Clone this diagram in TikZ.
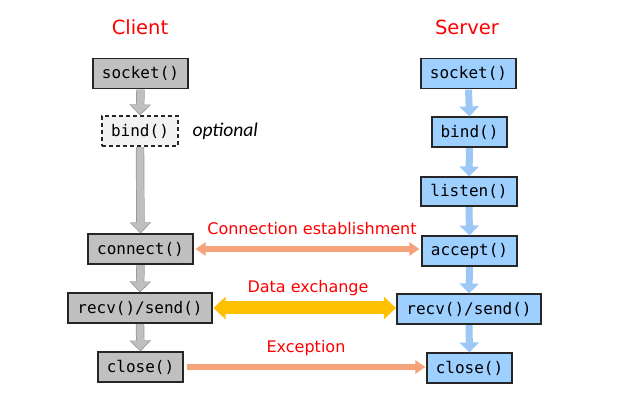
\documentclass[tikz,border=0pt]{standalone}
\usepackage{fontspec}
\setmainfont{DejaVu Sans}
\newfontfamily\monof{DejaVu Sans Mono}
\newfontfamily\labf{DejaVu Sans}
\newfontfamily\optf{Carlito}
\usetikzlibrary{arrows.meta}
\definecolor{boxgray}{HTML}{C0C0C0}
\definecolor{boxblue}{HTML}{9DCFFF}
\definecolor{bindfill}{HTML}{F2F2F2}
\definecolor{arrgray}{HTML}{BFBFBF}
\definecolor{arrgrayo}{HTML}{969696}
\definecolor{arrblue}{HTML}{9DC8F5}
\definecolor{salmon}{HTML}{F4A37A}
\definecolor{gold}{HTML}{FFC000}
\definecolor{labred}{HTML}{FF0000}
\begin{document}
\begin{tikzpicture}[x=1pt,y=-1pt,
  box/.style={draw=black!85, line width=1.1pt, minimum height=30pt, inner sep=0pt,
    font=\monof\fontsize{16}{18}\selectfont},
  cbox/.style={box, fill=boxgray},
  sbox/.style={box, fill=boxblue},
  title/.style={text=labred, font=\labf\fontsize{19.5}{22}\selectfont},
  lab/.style={text=labred, font=\labf\fontsize{16}{18}\selectfont},
  garrowo/.style={line width=8.4pt, draw=arrgrayo, -{Triangle[width=21pt,length=11pt]}},
  garrow/.style={line width=7pt, draw=arrgray, shorten >=1.2pt, -{Triangle[width=18.6pt,length=9.6pt]}},
  sarrow/.style={line width=7pt, draw=arrblue, -{Triangle[width=19pt,length=10pt]}},
  connarrow/.style={line width=6pt, draw=salmon, {Triangle[width=13pt,length=10pt]}-{Triangle[width=13pt,length=10pt]}},
  dataarrow/.style={line width=13pt, draw=gold, {Triangle[width=22pt,length=12pt]}-{Triangle[width=22pt,length=12pt]}},
  excarrow/.style={line width=6pt, draw=salmon, -{Triangle[width=13pt,length=10pt]}}
]
\useasboundingbox (0,0) rectangle (635,419);

% titles
\node[title] (tclient) at (140,27) {Client};
\node[title] (tserver) at (467,27) {Server};

% client column
\node[cbox, minimum width=95pt] (csock) at (140.5,73.5) {socket()};
\node[box, fill=bindfill, dash pattern=on 4pt off 3pt, minimum width=76pt] (cbind) at (140,131) {bind()};
\node[anchor=west, font=\optf\itshape\fontsize{19.5}{22}\selectfont] (opt) at (189,131) {optional};
\node[cbox, minimum width=105pt] (cconn) at (140.5,249) {connect()};
\node[cbox, minimum width=144pt] (crecv) at (140,308) {recv()/send()};
\node[cbox, minimum width=85pt] (cclose) at (140.5,367) {close()};

% server column
\node[sbox, minimum width=95pt] (ssock) at (468.5,73.5) {socket()};
\node[sbox, minimum width=75pt] (sbind) at (469.5,132) {bind()};
\node[sbox, minimum width=96pt, minimum height=29pt] (slisten) at (469,191.5) {listen()};
\node[sbox, minimum width=95pt] (saccept) at (469.5,251) {accept()};
\node[sbox, minimum width=144pt] (srecv) at (469,309) {recv()/send()};
\node[sbox, minimum width=85pt] (sclose) at (469.5,368) {close()};

% client arrows
\foreach \a/\b in {csock/cbind, cbind/cconn, cconn/crecv, crecv/cclose}{
  \draw[garrowo, shorten <=0.6pt] (\a.south) -- (\b.north);
  \draw[garrow, shorten <=0.6pt] (\a.south) -- (\b.north);
}
% server arrows
\foreach \a/\b in {ssock/sbind, sbind/slisten, slisten/saccept, saccept/srecv, srecv/sclose}{
  \draw[sarrow, shorten <=0.6pt] (\a.south) -- (\b.north);
}

% horizontal arrows
\draw[connarrow, shorten <=2pt, shorten >=2pt] (cconn.east) -- (cconn.east -| saccept.west);
\draw[dataarrow, shorten <=1pt, shorten >=0.5pt] (crecv.east) -- (crecv.east -| srecv.west);
\draw[excarrow, shorten <=3pt, shorten >=1pt] (cclose.east) -- (cclose.east -| sclose.west);

% labels
\node[lab] (lconn) at (312,229) {Connection establishment};
\node[lab] (ldata) at (308,288) {Data exchange};
\node[lab] (lexc) at (306,348) {Exception};
\end{tikzpicture}
\end{document}
